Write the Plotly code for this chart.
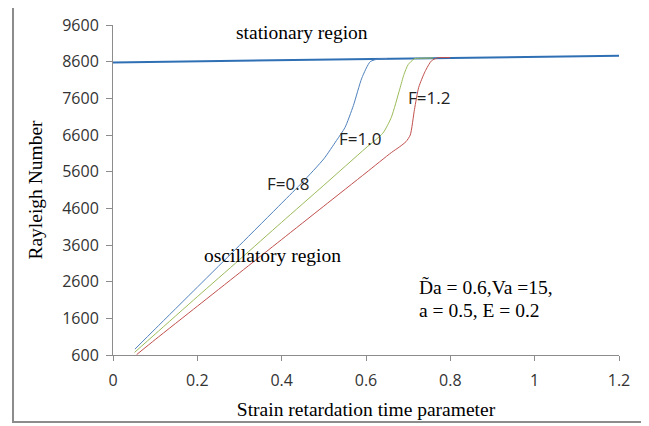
import plotly.graph_objects as go

# ---- data ----
stat_x = [0, 0.2, 0.4, 0.6, 0.8, 1.0, 1.2]
stat_y = [8580, 8610, 8640, 8670, 8700, 8730, 8760]

f08_x = [0.052, 0.1, 0.2, 0.3, 0.4, 0.45, 0.5, 0.53, 0.55, 0.57, 0.59, 0.61, 0.63, 0.65]
f08_y = [760, 1310, 2450, 3590, 4740, 5320, 5950, 6450, 6800, 7400, 8150, 8600, 8675, 8685]

f10_x = [0.051, 0.1, 0.2, 0.3, 0.4, 0.5, 0.6, 0.64, 0.66, 0.68, 0.69, 0.70, 0.715, 0.74, 0.76]
f10_y = [670, 1170, 2190, 3200, 4220, 5230, 6250, 6650, 7080, 7850, 8250, 8520, 8680, 8695, 8700]

f12_x = [0.056, 0.1, 0.2, 0.3, 0.4, 0.5, 0.6, 0.66, 0.68, 0.695, 0.705, 0.715, 0.725, 0.74, 0.755, 0.77, 0.80]
f12_y = [610, 1020, 1930, 2840, 3750, 4660, 5570, 6120, 6280, 6420, 6600, 7300, 7900, 8330, 8620, 8705, 8710]

x_ticks = [0, 0.2, 0.4, 0.6, 0.8, 1.0, 1.2]
x_tick_text = ["0", "0.2", "0.4", "0.6", "0.8", "1", "1.2"]
y_ticks = [600, 1600, 2600, 3600, 4600, 5600, 6600, 7600, 8600, 9600]

serif = "Liberation Serif, Times New Roman, serif"
sans = "Open Sans, sans-serif"
SERIF_SIZE = 19.5

fig = go.Figure()
fig.add_trace(go.Scatter(x=stat_x, y=stat_y, mode="lines",
                         line=dict(color="#2f6fb4", width=2), showlegend=False))
fig.add_trace(go.Scatter(x=f08_x, y=f08_y, mode="lines",
                         line=dict(color="#4f81bd", width=1, shape="spline", smoothing=0.6), showlegend=False))
fig.add_trace(go.Scatter(x=f10_x, y=f10_y, mode="lines",
                         line=dict(color="#9bbb59", width=1, shape="spline", smoothing=0.6), showlegend=False))
fig.add_trace(go.Scatter(x=f12_x, y=f12_y, mode="lines",
                         line=dict(color="#c0504d", width=1, shape="spline", smoothing=0.6), showlegend=False))

ann = [
    dict(x=0.448, y=9408, text="stationary region", font=dict(family=serif, size=SERIF_SIZE, color="#000")),
    dict(x=0.379, y=3327, text="oscillatory region", font=dict(family=serif, size=SERIF_SIZE, color="#000")),
    dict(x=0.415, y=5290, text="F=0.8", font=dict(family=sans, size=17, color="#222")),
    dict(x=0.586, y=6518, text="F=1.0", font=dict(family=sans, size=17, color="#222")),
    dict(x=0.749, y=7636, text="F=1.2", font=dict(family=sans, size=17, color="#222")),
    dict(x=0.721, y=2454, text="D\u0303a = 0.6,Va =15,", xanchor="left",
         font=dict(family=serif, size=SERIF_SIZE, color="#000")),
    dict(x=0.721, y=1827, text="a = 0.5, E = 0.2", xanchor="left",
         font=dict(family=serif, size=SERIF_SIZE, color="#000")),
]
for a in ann:
    a.setdefault("xanchor", "center")
    a.update(xref="x", yref="y", showarrow=False, yanchor="middle")
    fig.add_annotation(**a)

fig.add_shape(type="rect", xref="paper", yref="paper",
              x0=-0.1976, x1=1.0474, y0=-0.203, y1=1.0576,
              line=dict(color="#8c8c8c", width=2))

# page body has an 8px margin, so the figure is drawn 8px smaller and offset
fig.update_layout(
    width=641, height=418,
    margin=dict(l=105, r=30, t=17, b=71, autoexpand=False),
    plot_bgcolor="white", paper_bgcolor="white",
    xaxis=dict(range=[0, 1.2], tickvals=x_ticks, ticktext=x_tick_text,
               showgrid=False, zeroline=False, showline=True, linecolor="#8c8c8c", linewidth=1,
               ticks="outside", ticklen=5, tickcolor="#8c8c8c", ticklabelstandoff=6,
               tickfont=dict(family=sans, size=16, color="#333"),
               title=dict(text="Strain retardation time parameter",
                          font=dict(family=serif, size=SERIF_SIZE, color="#000"), standoff=12)),
    yaxis=dict(range=[600, 9600], tickvals=y_ticks,
               showgrid=False, zeroline=False, showline=True, linecolor="#8c8c8c", linewidth=1,
               ticks="outside", ticklen=6, tickcolor="#8c8c8c", ticklabelstandoff=4,
               tickfont=dict(family=sans, size=16, color="#333"),
               title=dict(text="Rayleigh Number",
                          font=dict(family=serif, size=SERIF_SIZE, color="#000"), standoff=14)),
)

fig.write_html("out.html")
